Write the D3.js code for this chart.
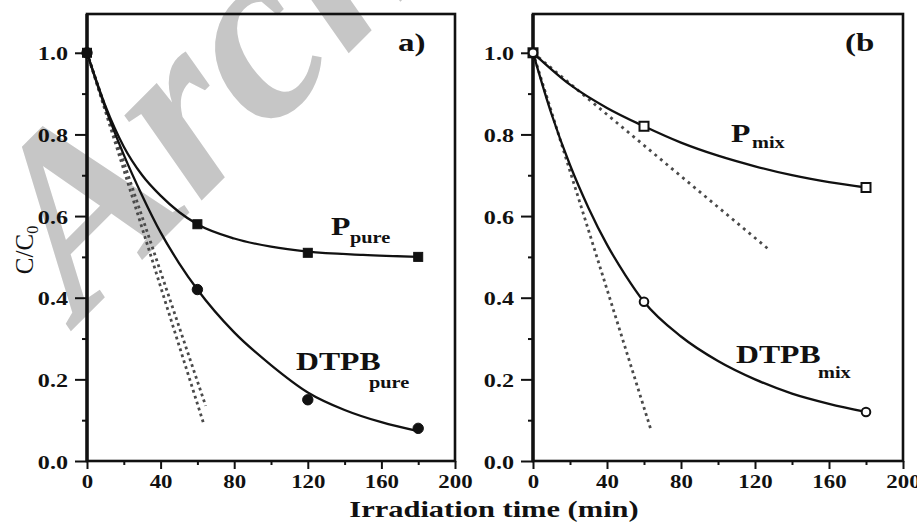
<!DOCTYPE html>
<html lang="en">
<head>
<meta charset="UTF-8">
<title>C/C0 vs irradiation time</title>
<script src="https://d3js.org/d3.v7.min.js"></script>
<style>
  body { margin: 0; background: #fff; }
  svg { display: block; }
  text { font-family: "Liberation Serif", "Times New Roman", serif; fill: #111; }
</style>
</head>
<body>
<svg id="chart" width="917" height="524"></svg>
<script>
// ---- data ----
const xTicks = [0, 40, 80, 120, 160, 200];
const yTicks = [0.0, 0.2, 0.4, 0.6, 0.8, 1.0];

// panel a) measured points
const pPureTime = [0, 60, 120, 180];
const pPureVal  = [1.0, 0.58, 0.51, 0.50];
const dPureTime = [0, 60, 120, 180];
const dPureVal  = [1.0, 0.42, 0.15, 0.08];
// panel a) fitted curves (read off the drawn lines)
const pPureFitT = [0, 10, 20, 30, 40, 50, 60, 80, 100, 120, 150, 180];
const pPureFitV = [1.0, 0.87, 0.77, 0.70, 0.65, 0.61, 0.58, 0.545, 0.525, 0.513, 0.505, 0.50];
const dPureFitT = [0, 10, 20, 30, 40, 50, 60, 80, 100, 120, 140, 160, 180];
const dPureFitV = [1.0, 0.865, 0.75, 0.65, 0.56, 0.485, 0.42, 0.315, 0.235, 0.168, 0.125, 0.095, 0.073];
// panel a) dotted initial-rate lines
const aDot1T = [0, 63.5], aDot1V = [1.0, 0.09];
const aDot2T = [0, 64.5], aDot2V = [1.0, 0.135];

// panel b) measured points
const pMixTime = [0, 60, 180];
const pMixVal  = [1.0, 0.82, 0.67];
const dMixTime = [0, 60, 180];
const dMixVal  = [1.0, 0.39, 0.12];
// panel b) fitted curves
const pMixFitT = [0, 20, 40, 60, 80, 100, 120, 140, 160, 180];
const pMixFitV = [1.0, 0.922, 0.865, 0.82, 0.78, 0.748, 0.722, 0.70, 0.683, 0.67];
const dMixFitT = [0, 10, 20, 30, 40, 50, 60, 80, 100, 120, 140, 160, 180];
const dMixFitV = [1.0, 0.85, 0.725, 0.62, 0.53, 0.455, 0.39, 0.305, 0.245, 0.2, 0.165, 0.14, 0.12];
// panel b) dotted lines
const bDot1T = [0, 127], bDot1V = [1.0, 0.52];
const bDot2T = [0, 63.5], bDot2V = [1.0, 0.08];

const sx = 1.27; // the scanned figure is stretched sideways, so text is too
const svg = d3.select("#chart");

// watermark
svg.append("text")
    .attr("transform", "translate(80,322) rotate(-45)")
    .style("font-size", "250px")
    .style("font-weight", "bold")
    .style("font-style", "italic")
    .style("fill", "#c6c6c6")
    .text("Archive of SID");

const zip = (t, v) => t.map((d, i) => [d, v[i]]);

function txt(x, y, s, size, weight, anchor) {
  return svg.append("text")
      .attr("transform", `translate(${x},${y}) scale(${sx},1)`)
      .attr("text-anchor", anchor || "start")
      .style("font-size", size + "px")
      .style("font-weight", weight || "normal")
      .text(s);
}

function panel(left, right, cfg) {
  const x = d3.scaleLinear().domain([0, 200]).range([left, right]);
  const y = d3.scaleLinear().domain([0, 1.095]).range([461, 14]);
  const g = svg.append("g");

  // minor ticks
  g.append("g").attr("transform", "translate(0,461)")
      .call(d3.axisBottom(x).tickValues(d3.range(20, 200, 40)).tickSize(4).tickFormat(""))
      .call(a => a.select(".domain").remove());
  g.append("g").attr("transform", `translate(${left},0)`)
      .call(d3.axisLeft(y).tickValues([0.1, 0.3, 0.5, 0.7, 0.9]).tickSize(5).tickFormat(""))
      .call(a => a.select(".domain").remove());

  // major ticks
  g.append("g").attr("transform", "translate(0,461)")
      .call(d3.axisBottom(x).tickValues(xTicks).tickSize(8).tickFormat(d3.format("d")))
      .call(a => a.select(".domain").remove())
      .call(a => a.selectAll("text")
          .attr("y", null).attr("dy", null)
          .attr("transform", `translate(0,27) scale(${sx},1)`)
          .style("font-size", "18px").style("font-weight", "bold")
          .style("font-family", "Liberation Serif, serif").attr("fill", "#111"));
  g.append("g").attr("transform", `translate(${left},0)`)
      .call(d3.axisLeft(y).tickValues(yTicks).tickSize(12).tickFormat(d3.format(".1f")))
      .call(a => a.select(".domain").remove())
      .call(a => a.selectAll("text")
          .attr("x", null).attr("dy", null)
          .attr("transform", `translate(-19,7) scale(${sx},1)`)
          .style("font-size", "19px").style("font-weight", "bold")
          .style("font-family", "Liberation Serif, serif").attr("fill", "#111"));
  g.selectAll(".tick line").attr("stroke", "#111").attr("stroke-width", 2);

  // frame
  g.append("rect")
      .attr("x", left).attr("y", 14)
      .attr("width", right - left).attr("height", 461 - 14)
      .attr("fill", "none").attr("stroke", "#111").attr("stroke-width", 2.6);
  g.append("line")
      .attr("x1", left).attr("x2", left).attr("y1", 14).attr("y2", 461)
      .attr("stroke", "#111").attr("stroke-width", 3.4);

  const line = d3.line().x(d => x(d[0])).y(d => y(d[1]));
  const smooth = d3.line().curve(d3.curveMonotoneX).x(d => x(d[0])).y(d => y(d[1]));

  cfg.dots.forEach(dl => {
    g.append("path").attr("d", line(dl.pts))
        .attr("fill", "none").attr("stroke", "#4a4a4a")
        .attr("stroke-width", dl.w).attr("stroke-dasharray", dl.dash);
  });
  cfg.fits.forEach(f => {
    g.append("path").attr("d", smooth(f))
        .attr("fill", "none").attr("stroke", "#111").attr("stroke-width", 2.3);
  });

  const filled = cfg.filled;
  g.selectAll(".sq").data(cfg.squares).join("rect")
      .attr("x", d => x(d[0]) - 4.5).attr("y", d => y(d[1]) - 4.5)
      .attr("width", 9).attr("height", 9)
      .attr("fill", filled ? "#111" : "#fff")
      .attr("stroke", "#111").attr("stroke-width", filled ? 1 : 2);
  g.selectAll(".ci").data(cfg.circles).join("circle")
      .attr("cx", d => x(d[0])).attr("cy", d => y(d[1]))
      .attr("r", filled ? 5.2 : 4.3)
      .attr("fill", filled ? "#111" : "#fff")
      .attr("stroke", "#111").attr("stroke-width", filled ? 1 : 2);
}

panel(87, 455, {
  filled: true,
  squares: zip(pPureTime, pPureVal),
  circles: zip(dPureTime, dPureVal),
  fits: [zip(pPureFitT, pPureFitV), zip(dPureFitT, dPureFitV)],
  dots: [
    { pts: zip(aDot1T, aDot1V), w: 2.8, dash: "2.8,3.4" },
    { pts: zip(aDot2T, aDot2V), w: 2.8, dash: "2.8,3.4" }
  ]
});
panel(533, 903, {
  filled: false,
  squares: zip(pMixTime, pMixVal),
  circles: zip(dMixTime, dMixVal),
  fits: [zip(pMixFitT, pMixFitV), zip(dMixFitT, dMixFitV)],
  dots: [
    { pts: zip(bDot1T, bDot1V), w: 2.8, dash: "2.8,4.4" },
    { pts: zip(bDot2T, bDot2V), w: 2.8, dash: "2.8,3.6" }
  ]
});

// labels
txt(331, 235, "P", 25, "bold");
txt(350, 243, "pure", 16, "bold");
txt(296, 370, "DTPB", 25, "bold");
txt(369, 388, "pure", 16, "bold");
txt(731, 142, "P", 25, "bold");
txt(752, 148, "mix", 16, "bold");
txt(736, 363, "DTPB", 25, "bold");
txt(818, 378, "mix", 16, "bold");
txt(398, 51, "a)", 26, "bold");
txt(845, 51, "(b", 26, "bold");

txt(494, 517, "Irradiation time (min)", 24, "bold", "middle");

// y title, rotated
const yt = svg.append("text")
    .attr("transform", "translate(33,250) rotate(-90)")
    .attr("text-anchor", "middle")
    .style("font-size", "25px");
yt.append("tspan").text("C/C");
yt.append("tspan").attr("dy", 5).style("font-size", "16px").text("0");
</script>
</body>
</html>
